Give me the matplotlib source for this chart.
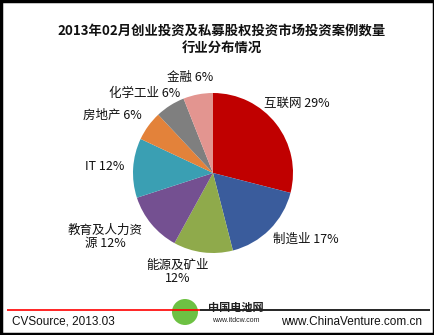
import matplotlib
matplotlib.use("Agg")
import matplotlib.pyplot as plt
import numpy as np
from matplotlib.patches import Rectangle, Circle

plt.rcParams['font.family'] = ['Noto Sans CJK SC', 'DejaVu Sans']

categories = ['互联网', '制造业', '能源及矿业', '教育及人力资源', 'IT', '房地产', '化学工业', '金融']
values = [29, 17, 12, 12, 12, 6, 6, 6]
label_texts = ['互联网 29%', '制造业 17%', '能源及矿业\n12%', '教育及人力资\n源 12%', 'IT 12%',
               '房地产 6%', '化学工业 6%', '金融 6%']
colors = ['#C00000', '#3A5C9C', '#8FAA4B', '#745091', '#3A9FB3', '#E3823A', '#7F7F7F', '#E39590']
title = '2013年02月创业投资及私募股权投资市场投资案例数量\n行业分布情况'
source = 'CVSource, 2013.03'
site = 'www.ChinaVenture.com.cn'

W, H = 435, 335
fig = plt.figure(figsize=(W / 100, H / 100), dpi=100)
ax = fig.add_axes([0, 0, 1, 1])


def Y(y):
    return H - y


cx, cy, r = 213, 173, 80
wedges, _ = ax.pie(values, colors=colors, startangle=90, counterclock=False,
                   center=(cx, Y(cy)), radius=r, frame=True,
                   wedgeprops=dict(linewidth=0))
ax.set_xlim(0, W)
ax.set_ylim(0, H)
ax.set_aspect('auto')
ax.axis('off')

# label positions (text anchors)
label_pos = [(264, 103, 'left'), (273, 239, 'left'), (178, 272, 'center'),
             (105, 237, 'center'), (105, 166, 'center'), (112, 115, 'center'),
             (145, 93, 'center'), (190, 77, 'center')]
for txt, (x, y, ha) in zip(label_texts, label_pos):
    ax.text(x, Y(y), txt, ha=ha, va='center', fontsize=9, color='#111111',
            linespacing=1.1)

ax.text(222, Y(39), title, ha='center', va='center', fontsize=9.6, fontweight='bold',
        color='#111111', linespacing=1.3)

# bottom rule
ax.plot([7, 200], [Y(310), Y(310)], color='#FF0000', lw=1.2, solid_capstyle='butt')
ax.plot([200, 430], [Y(310), Y(310)], color='#000000', lw=1.2, solid_capstyle='butt')

ax.text(12, Y(322), source, ha='left', va='center', fontsize=8.5,
        family=['Liberation Sans', 'DejaVu Sans'], color='#111111')
ax.text(422, Y(322), site, ha='right', va='center', fontsize=8.5,
        family=['Liberation Sans', 'DejaVu Sans'], color='#111111')

# watermark logo
ax.add_patch(Circle((185, Y(312)), 13, color='#5DBB2E', alpha=0.9, lw=0))
ax.text(236, Y(308), '中国电池网', ha='center', va='center', fontsize=8, fontweight='bold',
        color='#222222')
ax.text(236, Y(320), 'www.itdcw.com', ha='center', va='center', fontsize=5,
        family=['Liberation Sans', 'DejaVu Sans'], color='#222222')

# outer frame
ax.add_patch(Rectangle((1, 1), W - 2, H - 2, fill=False, edgecolor='black', lw=2.5))

fig.savefig('out.png', dpi=100)
